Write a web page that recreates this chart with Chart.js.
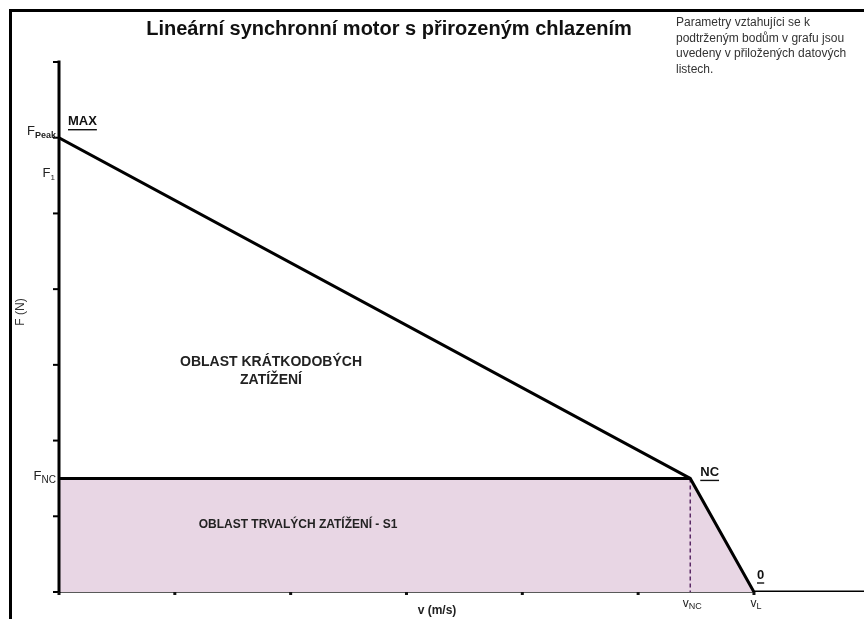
<!DOCTYPE html>
<html>
<head>
<meta charset="utf-8">
<script src="https://cdn.jsdelivr.net/npm/chart.js@4/dist/chart.umd.min.js"></script>
<style>
html,body{margin:0;padding:0;background:#fff;}
#wrap{position:relative;width:864px;height:619px;overflow:hidden;}
#frame{position:absolute;left:9px;top:9px;width:900px;height:700px;border-left:3px solid #000;border-top:3px solid #000;box-sizing:border-box;}
canvas{position:absolute;left:0;top:0;}
</style>
</head>
<body>
<div id="wrap">
<div id="frame"></div>
<canvas id="c" width="864" height="619"></canvas>
</div>
<script>
// ---- data (axis units: x in tick steps, y in tick steps) ----
const vTicks = [0, 1, 2, 3, 4, 5];
const fTicks = [0, 1, 2, 3, 4, 5, 6, 7];
const fPeak = 6.0;
const f1 = 5.53;
const fNC = 1.5;
const vNC = 5.45;
const vL = 6.0;
const vEnd = 6.95;
const curveV = [0, vNC, vL, vEnd];
const curveF = [fPeak, fNC, 0, 0];
const s1V = [0, vNC, vL];
const s1F = [fNC, fNC, 0];
const titleText = 'Lineární synchronní motor s přirozeným chlazením';
const noteLines = ['Parametry vztahujíci se k', 'podtrženým bodům v grafu jsou', 'uvedeny v přiložených datových', 'listech.'];
const shortLoadLines = ['OBLAST KRÁTKODOBÝCH', 'ZATÍŽENÍ'];
const contLoadText = 'OBLAST TRVALÝCH ZATÍŽENÍ - S1';
const xTitle = 'v (m/s)';
const yTitle = 'F (N)';

const pts = (xs, ys) => xs.map((x, i) => ({x: x, y: ys[i]}));
const FF = '"Liberation Sans", Arial, sans-serif';

const decor = {
  id: 'decor',
  beforeDatasetsDraw(chart) {
    const ctx = chart.ctx, xs = chart.scales.x, ys = chart.scales.y;
    const x0 = xs.getPixelForValue(0), y0 = ys.getPixelForValue(0);
    ctx.save();
    ctx.strokeStyle = '#222'; ctx.lineWidth = 1.5;
    ctx.beginPath(); ctx.moveTo(x0, y0); ctx.lineTo(xs.getPixelForValue(vL), y0); ctx.stroke();
    ctx.restore();
  },
  afterDatasetsDraw(chart) {
    const ctx = chart.ctx, xs = chart.scales.x, ys = chart.scales.y;
    const x0 = xs.getPixelForValue(0), y0 = ys.getPixelForValue(0);
    const yTop = ys.getPixelForValue(fTicks[fTicks.length - 1]);
    ctx.save();
    // y axis
    ctx.strokeStyle = '#000'; ctx.lineWidth = 3;
    ctx.beginPath(); ctx.moveTo(x0, yTop - 1.5); ctx.lineTo(x0, y0 + 1); ctx.stroke();
    ctx.lineWidth = 2;
    fTicks.forEach(t => {
      const y = ys.getPixelForValue(t);
      ctx.beginPath(); ctx.moveTo(x0 - 6, y); ctx.lineTo(x0, y); ctx.stroke();
    });
    // x ticks
    ctx.fillStyle = '#111';
    vTicks.concat([vL]).forEach(t => {
      const x = xs.getPixelForValue(t);
      ctx.fillRect(x - 1.5, y0, 3, 3);
    });
    // texts
    ctx.fillStyle = '#111';
    ctx.textBaseline = 'middle';
    ctx.font = 'bold 20px ' + FF;
    ctx.textAlign = 'center';
    ctx.fillText(titleText, 389, 29);
    ctx.font = '12px ' + FF;
    ctx.textAlign = 'left';
    ctx.fillStyle = '#333';
    noteLines.forEach((l, i) => ctx.fillText(l, 676, 23 + i * 15.5));
    ctx.fillStyle = '#222';
    ctx.font = 'bold 14px ' + FF;
    ctx.textAlign = 'center';
    shortLoadLines.forEach((l, i) => ctx.fillText(l, 271, 362 + i * 18.5));
    ctx.font = 'bold 12px ' + FF;
    ctx.fillText(contLoadText, 298, 525);
    ctx.font = 'bold 12px ' + FF;
    ctx.fillText(xTitle, 437, 611);
    ctx.save();
    ctx.fillStyle = '#333';
    ctx.font = '12px ' + FF;
    ctx.translate(21, 312); ctx.rotate(-Math.PI / 2);
    ctx.fillText(yTitle, 0, 0);
    ctx.restore();
    // underlined point labels
    const ul = (txt, x, y) => {
      ctx.font = 'bold 13px ' + FF;
      ctx.textAlign = 'left';
      ctx.fillStyle = '#111';
      ctx.fillText(txt, x, y);
      const w = ctx.measureText(txt).width;
      ctx.lineWidth = 1.4; ctx.strokeStyle = '#111';
      ctx.beginPath(); ctx.moveTo(x, y + 8); ctx.lineTo(x + w, y + 8); ctx.stroke();
    };
    ul('MAX', x0 + 9, ys.getPixelForValue(fPeak) - 16);
    ul('NC', xs.getPixelForValue(vNC) + 10, ys.getPixelForValue(fNC) - 6);
    ul('0', xs.getPixelForValue(vL) + 3, y0 - 17);
    // subscript labels
    const sub = (main, s, xRight, y, mainSize, subFont) => {
      ctx.textAlign = 'left';
      ctx.font = subFont;
      const ws = ctx.measureText(s).width;
      ctx.font = mainSize + 'px ' + FF;
      const wm = ctx.measureText(main).width;
      const xs0 = xRight - ws - wm;
      ctx.fillText(main, xs0, y);
      ctx.font = subFont;
      ctx.fillText(s, xs0 + wm, y + 4);
    };
    ctx.fillStyle = '#222';
    sub('F', 'Peak', x0 - 3, ys.getPixelForValue(fPeak) - 6, 13, 'bold 9px ' + FF);
    sub('F', '1', x0 - 4, ys.getPixelForValue(f1), 13, '8px ' + FF);
    sub('F', 'NC', x0 - 3, ys.getPixelForValue(fNC) - 2, 13, '10px ' + FF);
    const subC = (main, s, xc, y) => {
      ctx.font = '12px ' + FF;
      const wm = ctx.measureText(main).width;
      ctx.font = '9px ' + FF;
      const ws = ctx.measureText(s).width;
      const xl = xc - (wm + ws) / 2 + 2;
      ctx.textAlign = 'left';
      ctx.font = '12px ' + FF;
      ctx.fillText(main, xl, y);
      ctx.font = '9px ' + FF;
      ctx.fillText(s, xl + wm, y + 3);
    };
    subC('v', 'NC', xs.getPixelForValue(vNC), 604);
    subC('v', 'L', xs.getPixelForValue(vL), 604);
    ctx.restore();
  }
};

new Chart(document.getElementById('c'), {
  type: 'line',
  data: {
    datasets: [
      {data: pts(s1V, s1F), fill: 'origin', backgroundColor: '#e8d6e4', borderWidth: 0, pointRadius: 0, tension: 0, order: 5},
      {data: pts([vNC, vNC], [fNC, 0]), borderColor: '#5b2a66', borderWidth: 1.5, borderDash: [4, 3], pointRadius: 0, fill: false, order: 4},
      {data: pts([0, vNC], [fNC, fNC]), borderColor: '#000', borderWidth: 3, pointRadius: 0, fill: false, order: 2},
      {data: pts(curveV, curveF), borderColor: '#000', borderWidth: 3, pointRadius: 0, fill: false, tension: 0, order: 1, borderJoinStyle: 'miter'}
    ]
  },
  options: {
    responsive: false,
    animation: false,
    devicePixelRatio: 1,
    layout: {padding: {left: 59, top: 62, right: 0, bottom: 27}},
    plugins: {legend: {display: false}, tooltip: {enabled: false}, title: {display: false}},
    scales: {
      x: {type: 'linear', min: 0, max: vEnd, display: false},
      y: {type: 'linear', min: 0, max: 7, display: false}
    }
  },
  plugins: [decor]
});
</script>
</body>
</html>
